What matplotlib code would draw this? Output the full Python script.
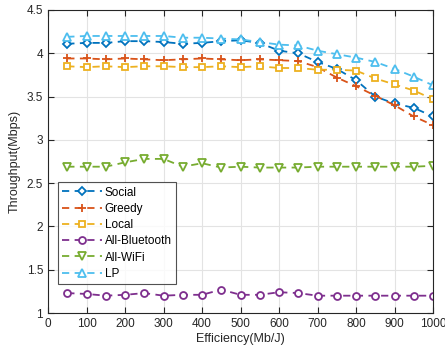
import matplotlib.pyplot as plt

plt.rcParams['font.family'] = ['Liberation Sans', 'DejaVu Sans']

# efficiency values (Mb/J)
efficiency = [50, 100, 150, 200, 250, 300, 350, 400, 450, 500,
              550, 600, 650, 700, 750, 800, 850, 900, 950, 1000]

# throughput (Mbps) for each scheme
social = [4.11, 4.12, 4.12, 4.14, 4.14, 4.13, 4.11, 4.12, 4.14, 4.15,
          4.12, 4.03, 4.00, 3.90, 3.82, 3.69, 3.50, 3.42, 3.37, 3.27]
greedy = [3.94, 3.94, 3.93, 3.94, 3.93, 3.92, 3.93, 3.94, 3.93, 3.92,
          3.93, 3.92, 3.91, 3.84, 3.72, 3.62, 3.51, 3.40, 3.27, 3.17]
local = [3.85, 3.84, 3.85, 3.84, 3.85, 3.85, 3.84, 3.84, 3.85, 3.84,
         3.85, 3.83, 3.83, 3.81, 3.81, 3.80, 3.71, 3.64, 3.57, 3.47]
bluetooth = [1.23, 1.22, 1.20, 1.21, 1.23, 1.20, 1.21, 1.21, 1.27, 1.21,
             1.21, 1.24, 1.23, 1.20, 1.20, 1.20, 1.20, 1.20, 1.20, 1.20]
wifi = [2.69, 2.69, 2.69, 2.74, 2.78, 2.78, 2.69, 2.73, 2.68, 2.69,
        2.68, 2.68, 2.68, 2.69, 2.69, 2.69, 2.69, 2.69, 2.69, 2.70]
lp = [4.19, 4.20, 4.20, 4.20, 4.20, 4.20, 4.18, 4.18, 4.17, 4.16,
      4.13, 4.10, 4.09, 4.03, 3.99, 3.95, 3.90, 3.82, 3.73, 3.63]

series = [
    ("Social", social, "D", "#0072BD", 4.2),
    ("Greedy", greedy, "+", "#D95319", 6),
    ("Local", local, "s", "#EDB120", 4.5),
    ("All-Bluetooth", bluetooth, "o", "#7E2F8E", 5),
    ("All-WiFi", wifi, "v", "#77AC30", 5.5),
    ("LP", lp, "^", "#4DBEEE", 6),
]

fig = plt.figure(figsize=(4.45, 3.54), dpi=100)
ax = fig.add_axes([48 / 445, 1 - 313 / 354, 385 / 445, 303 / 354])

for name, vals, mk, col, ms in series:
    ax.plot(efficiency, vals, linestyle=(0, (4, 3)), color=col, linewidth=1.3,
            marker=mk, markersize=ms, markerfacecolor='white',
            markeredgecolor=col, markeredgewidth=1.3, label=name)

ax.set_xlim(0, 1000)
ax.set_ylim(1, 4.5)
ax.set_xticks(range(0, 1001, 100))
ax.set_yticks([1, 1.5, 2, 2.5, 3, 3.5, 4, 4.5])
ax.set_yticklabels(['1', '1.5', '2', '2.5', '3', '3.5', '4', '4.5'])
ax.grid(True, color='#e3e3e3', linewidth=0.8)
ax.set_axisbelow(True)
ax.tick_params(direction='in', length=4, labelsize=8.5, colors='#262626',
               top=True, right=True)
for sp in ax.spines.values():
    sp.set_color('#262626')
    sp.set_linewidth(0.8)

ax.set_xlabel("Efficiency(Mb/J)", fontsize=9, color='#262626', labelpad=2)
ax.set_ylabel("Throughput(Mbps)", fontsize=9, color='#262626', labelpad=4)

leg = ax.legend(loc='lower left', bbox_to_anchor=(10 / 385, 29 / 303),
                fontsize=8.5, frameon=True, fancybox=False, edgecolor='#262626',
                handlelength=3.4, borderpad=0.35, labelspacing=0.36,
                handletextpad=0.2, borderaxespad=0)
leg.get_frame().set_linewidth(0.8)

plt.savefig("out.png", dpi=100)
